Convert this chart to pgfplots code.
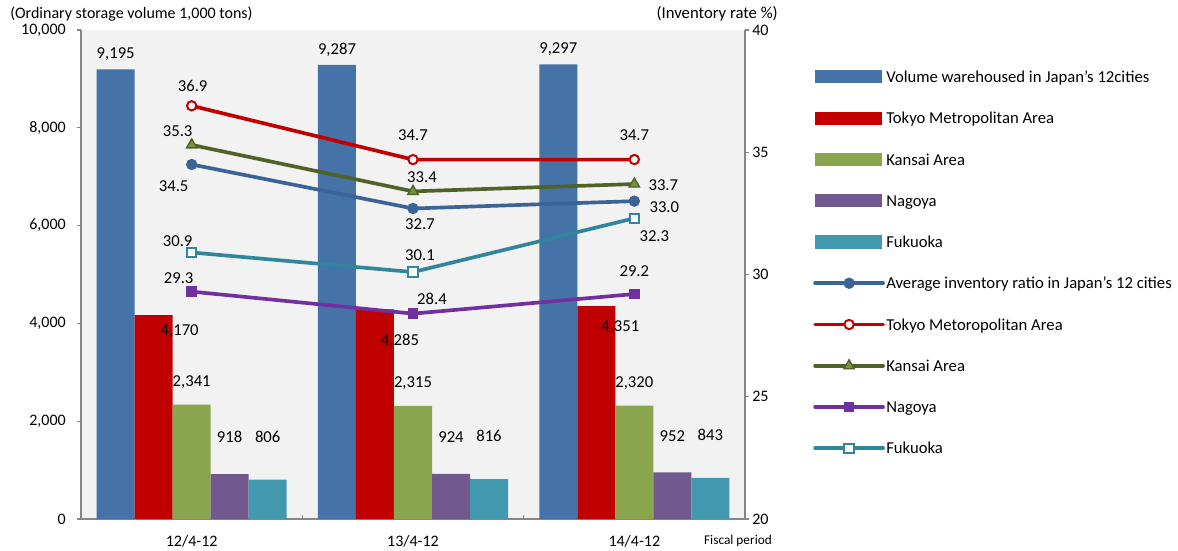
\documentclass[12pt,border=0pt]{standalone}
\usepackage{fontspec}
\setmainfont{Carlito}
\usepackage{pgfplots}
\pgfplotsset{compat=1.18}
\definecolor{cBlue}{HTML}{4572A7}
\definecolor{cRed}{HTML}{C00000}
\definecolor{cGreen}{HTML}{89A54E}
\definecolor{cPurple}{HTML}{71588F}
\definecolor{cTeal}{HTML}{4198AF}
\definecolor{lBlue}{HTML}{3A6396}
\definecolor{lRed}{HTML}{C00000}
\definecolor{lGreen}{HTML}{4F6228}
\definecolor{lGreenF}{HTML}{77933C}
\definecolor{lPurple}{HTML}{7030A0}
\definecolor{lTeal}{HTML}{31859C}
\definecolor{axisgray}{HTML}{868686}
\definecolor{plotbg}{HTML}{F2F2F2}
\newcommand{\lf}{\fontsize{12.5}{14.5}\selectfont}
\pgfplotsset{
  base/.style={scale only axis, width=498pt, height=366.75pt, at={(0,0)}, anchor=south west,
    xmin=-0.5, xmax=2.5, tick align=outside, major tick length=3pt,
    clip mode=individual,
    tick style={axisgray, line width=1pt},
    axis line style={axisgray, line width=1.5pt},
    ticklabel style={black},
    /pgf/number format/1000 sep={,},
    /pgf/number format/assume math mode=true},
  barleg/.style={legend image code/.code={\fill[#1, draw=none] (0pt,-4.9pt) rectangle (50pt,4.9pt);}},
  lineleg/.style={legend image code/.code={\draw[##1, mark=none, line cap=round] (0pt,0pt) -- (51pt,0pt); \draw[##1, only marks] plot coordinates {(25.5pt,0pt)};}},
}
\newcommand{\lab}[5]{\node[inner sep=0pt, font=\lf, xshift=#3pt, yshift=#4pt] at (axis cs:#1,#2) {#5};}
\newcommand{\legent}[1]{\addlegendentry{\strut #1}}
\begin{document}
\begin{tikzpicture}
\path[use as bounding box] (-60.75pt,-23.25pt) rectangle (822.75pt,389.25pt);
\begin{axis}[base, axis background/.style={fill=plotbg},
  ybar=0pt, bar width=0.1717, ymin=0, ymax=10000, ytick={0,2000,...,10000},
  scaled y ticks=false,
  axis x line*=bottom, axis y line*=left,
  xtick={-0.5,0.5,1.5,2.5}, x tick label as interval,
  xticklabels={12/4-12,13/4-12,14/4-12},
  xtick style={yshift=3pt},
  xticklabel style={yshift=-5.25pt},
  yticklabel style={xshift=-4.25pt},
  every node near coord/.append style={inner sep=0pt, anchor=base, font=\lf, black},
]
\addplot[fill=cBlue, draw=none, nodes near coords, every node near coord/.append style={yshift=8pt}] coordinates {(0,9195) (1,9287) (2,9297)};
\addplot[fill=cRed, draw=none] coordinates {(0,4170) (1,4285) (2,4351)};
\addplot[fill=cGreen, draw=none, nodes near coords, every node near coord/.append style={yshift=13.5pt}] coordinates {(0,2341) (1,2315) (2,2320)};
\addplot[fill=cPurple, draw=none, nodes near coords, every node near coord/.append style={yshift=23.5pt}] coordinates {(0,918) (1,924) (2,952)};
\addplot[fill=cTeal, draw=none, nodes near coords, every node near coord/.append style={yshift=28pt}] coordinates {(0,806) (1,816) (2,843)};
\lab{-0.1717}{4170}{19.5}{-12}{4,170}
\lab{0.8283}{4285}{18.75}{-23.25}{4,285}
\lab{1.8283}{4351}{18}{-15.75}{4,351}
\node[anchor=west, inner sep=0pt, xshift=-53.25pt, yshift=12pt, font=\fontsize{12}{14}\selectfont] at (rel axis cs:0,1) {(Ordinary storage volume 1,000 tons)};
\node[anchor=east, inner sep=0pt, xshift=24.75pt, yshift=12pt, font=\lf] at (rel axis cs:1,1) {(Inventory rate \%)};
\node[inner sep=0pt, xshift=-5.25pt, yshift=-16.5pt, font=\fontsize{10}{12}\selectfont] at (rel axis cs:1,0) {Fiscal period};
\end{axis}
\begin{axis}[base, ymin=20, ymax=40, ytick={20,25,...,40},
  axis y line*=right, axis x line=none,
  yticklabel style={xshift=-1.75pt},
  legend style={draw=none, fill=none, at={(1.1024,1)}, anchor=north west, yshift=-29pt,
    inner sep=0pt, row sep=19pt, column sep=1pt, nodes={inner sep=0pt}, font=\lf},
  legend cell align=left,
]
\addlegendimage{barleg, fill=cBlue}\legent{Volume warehoused in Japan's 12cities}
\addlegendimage{barleg, fill=cRed}\legent{Tokyo Metropolitan Area}
\addlegendimage{barleg, fill=cGreen}\legent{Kansai Area}
\addlegendimage{barleg, fill=cPurple}\legent{Nagoya}
\addlegendimage{barleg, fill=cTeal}\legent{Fukuoka}
\addplot[lBlue, line width=2.75pt, mark=*, mark size=3.75pt, mark options={line width=1pt, fill=lBlue}, lineleg] coordinates {(0,34.5) (1,32.7) (2,33.0)};
\legent{Average inventory ratio in Japan's 12 cities}
\addplot[lRed, line width=2.75pt, mark=*, mark size=3.5pt, mark options={line width=1.5pt, fill=white}, lineleg] coordinates {(0,36.9) (1,34.7) (2,34.7)};
\legent{Tokyo Metoropolitan Area}
\addplot[lGreen, line width=2.75pt, mark=triangle*, mark size=4.5pt, mark options={line width=1pt, fill=lGreenF}, lineleg] coordinates {(0,35.3) (1,33.4) (2,33.7)};
\legent{Kansai Area}
\addplot[lPurple, line width=2.75pt, mark=square*, mark size=3.5pt, mark options={line width=1pt, fill=lPurple}, lineleg] coordinates {(0,29.3) (1,28.4) (2,29.2)};
\legent{Nagoya}
\addplot[lTeal, line width=2.75pt, mark=square*, mark size=3.5pt, mark options={line width=1.5pt, fill=white}, lineleg] coordinates {(0,30.9) (1,30.1) (2,32.3)};
\legent{Fukuoka}
\lab{0}{36.9}{0.75}{15}{36.9}
\lab{1}{34.7}{0}{18}{34.7}
\lab{2}{34.7}{0}{18}{34.7}
\lab{0}{35.3}{-10.5}{10.5}{35.3}
\lab{1}{33.4}{6.75}{10.5}{33.4}
\lab{2}{33.7}{21.75}{-0.75}{33.7}
\lab{0}{34.5}{-13.5}{-16.5}{34.5}
\lab{1}{32.7}{5.25}{-12}{32.7}
\lab{2}{33.0}{22.5}{-4.5}{33.0}
\lab{0}{30.9}{-10.5}{8.25}{30.9}
\lab{1}{30.1}{5.25}{12.75}{30.1}
\lab{2}{32.3}{15}{-13.5}{32.3}
\lab{0}{29.3}{-9.75}{9.75}{29.3}
\lab{1}{28.4}{14.25}{11.25}{28.4}
\lab{2}{29.2}{0}{17.25}{29.2}
\end{axis}
\end{tikzpicture}
\end{document}
